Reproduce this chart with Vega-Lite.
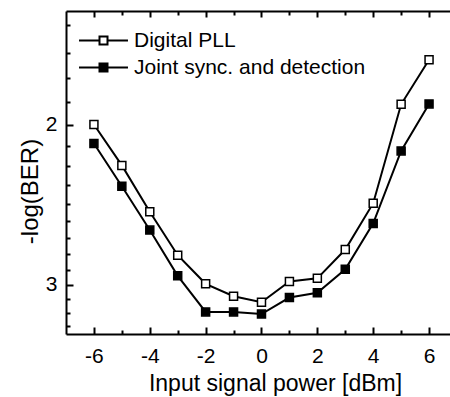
{
  "$schema": "https://vega.github.io/schema/vega-lite/v6.json",
  "width": 384,
  "height": 323,
  "autosize": {"type": "none"},
  "padding": {"left": 66, "top": 11, "right": 0, "bottom": 63},
  "background": "white",
  "config": {
    "view": {"stroke": null},
    "font": "Liberation Sans",
    "axis": {
      "domainColor": "black", "domainWidth": 2, "tickWidth": 2,
      "labelColor": "black", "titleColor": "black", "labelFont": "Liberation Sans", "titleFont": "Liberation Sans",
      "labelFontSize": 21, "titleFontSize": 23, "titleFontWeight": "normal", "grid": false
    }
  },
  "data": {"values": [
    {"p": -6, "v": 2.00, "series": "Digital PLL"},
    {"p": -5, "v": 2.218, "series": "Digital PLL"},
    {"p": -4, "v": 2.494, "series": "Digital PLL"},
    {"p": -3, "v": 2.785, "series": "Digital PLL"},
    {"p": -2, "v": 2.994, "series": "Digital PLL"},
    {"p": -1, "v": 3.09, "series": "Digital PLL"},
    {"p": 0, "v": 3.137, "series": "Digital PLL"},
    {"p": 1, "v": 2.976, "series": "Digital PLL"},
    {"p": 2, "v": 2.953, "series": "Digital PLL"},
    {"p": 3, "v": 2.745, "series": "Digital PLL"},
    {"p": 4, "v": 2.441, "series": "Digital PLL"},
    {"p": 5, "v": 1.90, "series": "Digital PLL"},
    {"p": 6, "v": 1.697, "series": "Digital PLL"},
    {"p": -6, "v": 2.098, "series": "Joint sync. and detection"},
    {"p": -5, "v": 2.338, "series": "Joint sync. and detection"},
    {"p": -4, "v": 2.613, "series": "Joint sync. and detection"},
    {"p": -3, "v": 2.934, "series": "Joint sync. and detection"},
    {"p": -2, "v": 3.215, "series": "Joint sync. and detection"},
    {"p": -1, "v": 3.215, "series": "Joint sync. and detection"},
    {"p": 0, "v": 3.232, "series": "Joint sync. and detection"},
    {"p": 1, "v": 3.10, "series": "Joint sync. and detection"},
    {"p": 2, "v": 3.063, "series": "Joint sync. and detection"},
    {"p": 3, "v": 2.886, "series": "Joint sync. and detection"},
    {"p": 4, "v": 2.569, "series": "Joint sync. and detection"},
    {"p": 5, "v": 2.138, "series": "Joint sync. and detection"},
    {"p": 6, "v": 1.898, "series": "Joint sync. and detection"}
  ]},
  "layer": [
    {
      "mark": {"type": "line", "color": "black", "strokeWidth": 2},
      "encoding": {
        "x": {"field": "p", "type": "quantitative", "scale": {"domain": [-7, 6.75], "nice": false, "zero": false},
          "axis": {"orient": "bottom", "values": [-6, -4, -2, 0, 2, 4, 6], "labelExpr": "'' + datum.value", "ticks": false, "labelPadding": 11, "labelFlush": false,
            "title": "Input signal power [dBm]", "titleX": 209, "titleY": 56, "titleBaseline": "alphabetic", "titleAlign": "center"}},
        "y": {"field": "v", "type": "quantitative", "scale": {"type": "log", "domain": [1.5, 3.4], "reverse": true, "nice": false},
          "axis": {"orient": "left", "values": [2, 3], "labelExpr": "'' + datum.value", "ticks": false, "labelPadding": 9,
            "title": "-log(BER)", "titleX": -29, "titleY": 180, "titleBaseline": "alphabetic", "titleAlign": "center", "titleFontSize": 24}},
        "detail": {"field": "series"}
      }
    },
    {
      "mark": {"type": "point", "shape": "square", "size": 64, "filled": true, "stroke": "black", "strokeWidth": 1.5, "opacity": 1},
      "encoding": {
        "x": {"field": "p", "type": "quantitative", "scale": {"domain": [-7, 6.75], "nice": false, "zero": false},
          "axis": {"orient": "bottom", "values": [-6, -4, -2, 0, 2, 4, 6], "labels": false, "domain": false, "offset": -7, "tickSize": 7, "tickColor": "black", "title": null}},
        "y": {"field": "v", "type": "quantitative", "scale": {"type": "log", "domain": [1.5, 3.4], "reverse": true, "nice": false},
          "axis": {"orient": "left", "values": [2, 3], "labels": false, "domain": false, "offset": -7, "tickSize": 7, "tickColor": "black", "title": null}},
        "fill": {"field": "series", "type": "nominal",
          "scale": {"domain": ["Digital PLL", "Joint sync. and detection"], "range": ["white", "black"]},
          "legend": {"orient": "none", "legendX": 27, "legendY": 19, "title": null,
            "symbolType": "M-3.06,0H-0.5M0.5,0H3.06M-0.5,-0.5H0.5V0.5H-0.5Z", "symbolSize": 256,
            "symbolStrokeColor": "black", "symbolStrokeWidth": 2, "symbolOpacity": 1,
            "labelFontSize": 21, "labelFont": "Liberation Sans", "labelColor": "black", "labelOffset": 20, "labelLimit": 400, "rowPadding": 5, "padding": 0}}
      }
    },
    {
      "mark": {"type": "line", "strokeOpacity": 0},
      "encoding": {
        "x": {"field": "p", "type": "quantitative", "scale": {"domain": [-7, 6.75], "nice": false, "zero": false},
          "axis": {"orient": "bottom", "values": [-5, -3, -1, 1, 3, 5], "labels": false, "domain": false, "offset": -4, "tickSize": 4, "tickColor": "black", "title": null}},
        "y": {"field": "v", "type": "quantitative", "scale": {"type": "log", "domain": [1.5, 3.4], "reverse": true, "nice": false},
          "axis": {"orient": "left", "values": [1.5556, 1.6667, 1.7778, 1.8889, 2.1111, 2.2222, 2.3333, 2.4444, 2.5556, 2.6667, 2.7778, 2.8889, 3.1111, 3.2222, 3.3333], "labels": false, "domain": false, "offset": -4, "tickSize": 4, "tickColor": "black", "title": null}},
        "detail": {"field": "series"}
      }
    },
    {
      "mark": {"type": "line", "strokeOpacity": 0},
      "encoding": {
        "x": {"field": "p", "type": "quantitative", "scale": {"domain": [-7, 6.75], "nice": false, "zero": false},
          "axis": {"orient": "top", "values": [-6, -4, -2, 0, 2, 4, 6], "labels": false, "ticks": false, "title": null}},
        "y": {"field": "v", "type": "quantitative", "scale": {"type": "log", "domain": [1.5, 3.4], "reverse": true, "nice": false}, "axis": null},
        "detail": {"field": "series"}
      }
    },
    {
      "mark": {"type": "line", "strokeOpacity": 0},
      "encoding": {
        "x": {"field": "p", "type": "quantitative", "scale": {"domain": [-7, 6.75], "nice": false, "zero": false},
          "axis": {"orient": "top", "values": [-6, -4, -2, 0, 2, 4, 6], "labels": false, "domain": false, "offset": -6, "tickSize": 6, "tickColor": "black", "title": null}},
        "y": {"field": "v", "type": "quantitative", "scale": {"type": "log", "domain": [1.5, 3.4], "reverse": true, "nice": false}, "axis": null},
        "detail": {"field": "series"}
      }
    },
    {
      "mark": {"type": "line", "strokeOpacity": 0},
      "encoding": {
        "x": {"field": "p", "type": "quantitative", "scale": {"domain": [-7, 6.75], "nice": false, "zero": false},
          "axis": {"orient": "top", "values": [-5, -3, -1, 1, 3, 5], "labels": false, "domain": false, "offset": -4, "tickSize": 4, "tickColor": "black", "title": null}},
        "y": {"field": "v", "type": "quantitative", "scale": {"type": "log", "domain": [1.5, 3.4], "reverse": true, "nice": false}, "axis": null},
        "detail": {"field": "series"}
      }
    }
  ],
  "resolve": {"axis": {"x": "independent", "y": "independent"}}
}
